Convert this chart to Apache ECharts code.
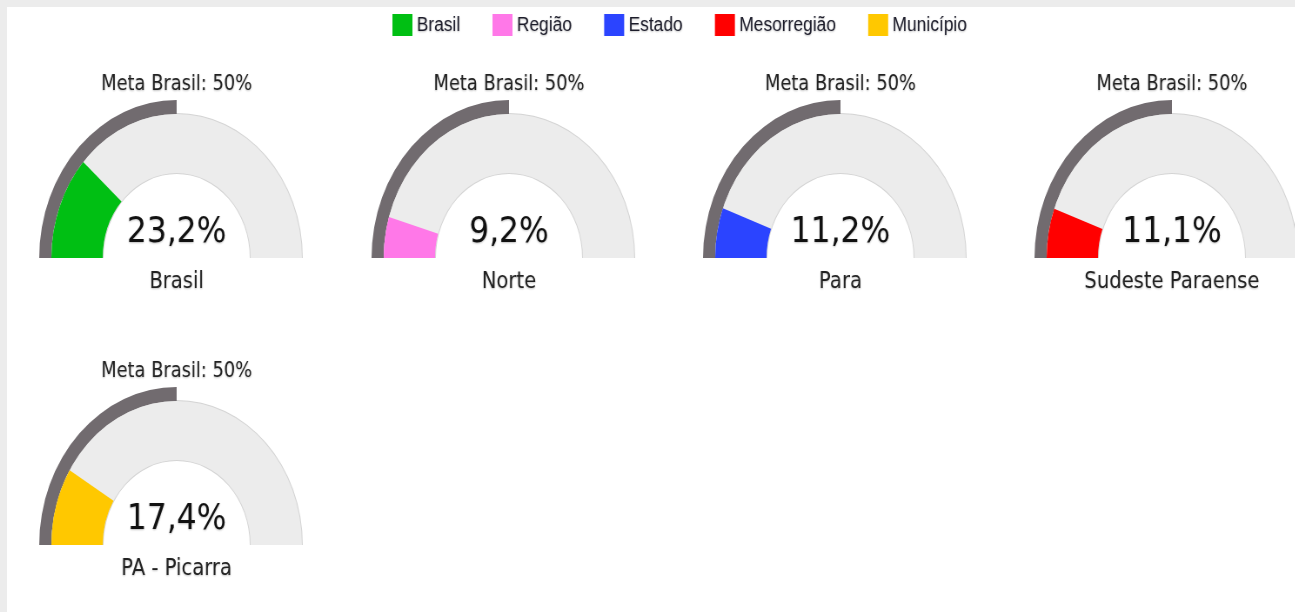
<!DOCTYPE html>
<html>
<head>
<meta charset="utf-8">
<script src="https://cdn.jsdelivr.net/npm/echarts@6/dist/echarts.min.js"></script>
<style>
html, body { margin: 0; padding: 0; background: #ececec; width: 1295px; height: 612px; overflow: hidden; }
#frame { position: absolute; left: 7px; top: 7px; width: 1288px; height: 605px; background: #fff; overflow: hidden; }
/* a imagem original vem achatada na horizontal */
#chart { width: 1480px; height: 605px; transform: scaleX(0.87); transform-origin: 0 0; }
</style>
</head>
<body>
<div id="frame"><div id="chart"></div></div>
<script>
const legendNames = ['Brasil', 'Região', 'Estado', 'Mesorregião', 'Município']
const places = ['Brasil', 'Norte', 'Para', 'Sudeste Paraense', 'PA - Picarra']
const values = [23.2, 9.2, 11.2, 11.1, 17.4]
const meta = 50

const colors = ['#00bf13', '#ff78e8', '#2b44ff', '#ff0000', '#ffc800']
// centro de cada gauge em px (antes do scaleX)
const centers = [[195, 251], [577, 251], [958, 251], [1339, 251], [195, 538]]

const font = 'DejaVu Sans'
const txtShadow = { textShadowColor: 'rgba(0,0,0,0.25)', textShadowBlur: 2, textShadowOffsetY: 1 }
const fmt = v => v.toFixed(1).replace('.', ',') + '%'

let mycharts = echarts.init(document.getElementById('chart'))
let series = []
places.forEach((p, i) => {
    const base = {
        type: 'gauge',
        center: centers[i],
        startAngle: 180,
        endAngle: 0,
        min: 0,
        max: 100,
        silent: true,
        axisTick: { show: false },
        splitLine: { show: false },
        axisLabel: { show: false },
        pointer: { show: false },
        anchor: { show: false }
    }
    // borda fina da faixa cinza
    series.push({
        ...base, name: 'borda', z: 1, radius: 145,
        axisLine: { lineStyle: { width: 61, color: [[1, '#d4d4d4']] } },
        title: { show: false }, detail: { show: false },
        data: [{ value: 0, name: '' }]
    })
    // arco da meta
    series.push({
        ...base, name: 'meta', z: 2, radius: 158,
        axisLine: { lineStyle: { width: 14, color: [[meta / 100, '#716b6f'], [1, 'rgba(0,0,0,0)']] } },
        title: { offsetCenter: [0, -173], fontSize: 20.5, color: '#222', fontFamily: font, ...txtShadow },
        detail: { show: false },
        data: [{ value: meta, name: 'Meta Brasil: ' + meta + '%' }]
    })
    series.push({
        ...base, name: legendNames[i], z: 3, radius: 144,
        itemStyle: { color: colors[i] },
        progress: { show: true, width: 59, roundCap: false, itemStyle: { color: colors[i] } },
        axisLine: { lineStyle: { width: 59, color: [[1, '#ececec']] } },
        title: { offsetCenter: [0, 24], fontSize: 22.5, color: '#222', fontFamily: font, ...txtShadow },
        detail: { offsetCenter: [0, -25], fontSize: 36, fontWeight: 'normal', color: '#111', fontFamily: font, formatter: fmt, ...txtShadow },
        data: [{ value: values[i], name: p }]
    })
})

mycharts.setOption({
    animation: false,
    legend: {
        left: 438,
        top: 2,
        icon: 'rect',
        itemWidth: 23,
        itemHeight: 22,
        itemGap: 37,
        textStyle: { fontFamily: 'Liberation Sans', fontSize: 20, color: '#1c1c2a', ...txtShadow },
        data: legendNames.map((n, i) => ({ name: n, itemStyle: { color: colors[i] } }))
    },
    series: series
})
</script>
</body>
</html>
